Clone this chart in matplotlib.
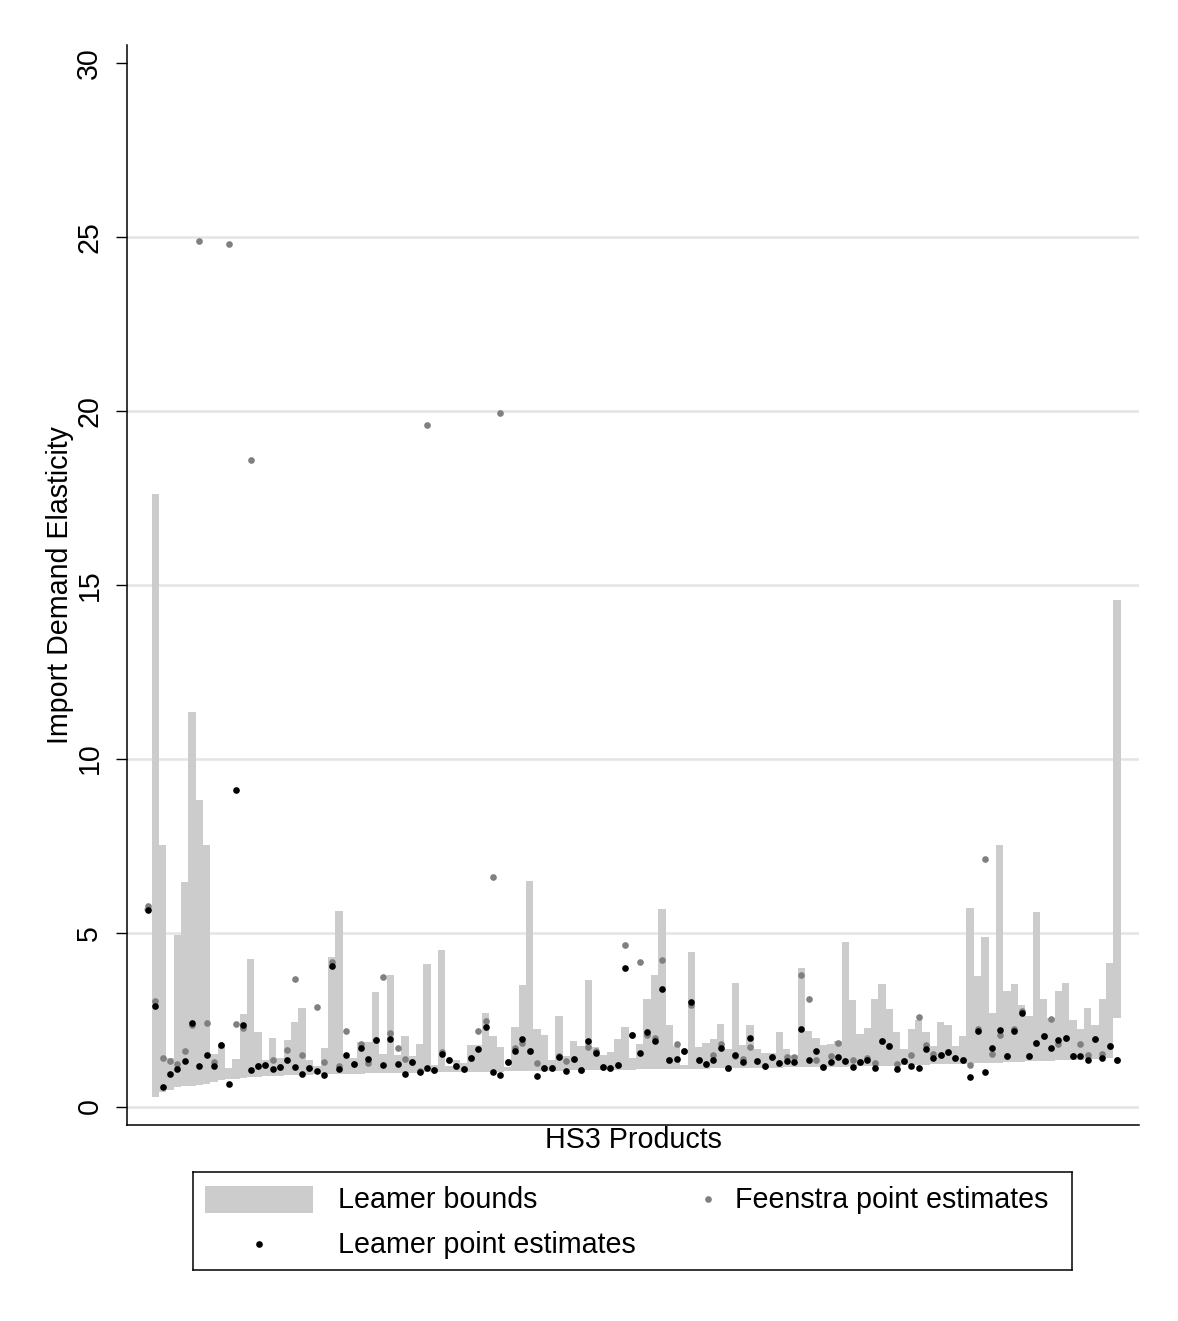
import matplotlib
matplotlib.use("Agg")
import matplotlib.pyplot as plt
from matplotlib.patches import Rectangle
import numpy as np

plt.rcParams['font.family'] = ['Liberation Sans', 'DejaVu Sans']

# Leamer bounds (lower, upper), Leamer point estimates, Feenstra point estimates per HS3 product
lower = [5.62, 0.27, 0.41, 0.47, 0.55, 0.58, 0.60, 0.63, 0.66, 0.72,
         0.76, 0.78, 0.80, 0.82, 0.84, 0.85, 0.87, 0.88, 0.89, 0.90,
         0.91, 0.92, 0.92, 0.93, 0.93, 0.94, 0.94, 0.95, 0.95, 0.95,
         0.96, 0.96, 0.96, 0.96, 0.97, 0.97, 0.97, 0.97, 0.98, 0.98,
         0.98, 0.98, 0.99, 0.99, 0.99, 1.00, 1.00, 1.00, 1.00, 1.01,
         1.01, 1.01, 1.02, 1.02, 1.02, 1.03, 1.03, 1.03, 1.04, 1.04,
         1.04, 1.05, 1.05, 1.05, 1.06, 1.06, 1.06, 1.07, 1.07, 1.07,
         1.08, 1.08, 1.08, 1.08, 1.09, 1.09, 1.09, 1.10, 1.10, 1.10,
         1.10, 1.11, 1.11, 1.11, 1.12, 1.12, 1.12, 1.13, 1.13, 1.13,
         1.14, 1.14, 1.14, 1.15, 1.15, 1.15, 1.16, 1.16, 1.16, 1.17,
         1.17, 1.18, 1.18, 1.19, 1.19, 1.20, 1.20, 1.21, 1.21, 1.22,
         1.22, 1.23, 1.23, 1.24, 1.24, 1.25, 1.26, 1.27, 1.28, 1.29,
         1.30, 1.30, 1.31, 1.32, 1.33, 1.33, 1.34, 1.35, 1.36, 1.37,
         1.38, 1.40, 2.54]
upper = [5.72, 17.60, 7.53, 1.40, 4.94, 6.46, 11.35, 8.82, 7.52, 1.50,
         1.78, 1.12, 1.38, 2.67, 4.25, 2.14, 1.35, 1.97, 1.40, 1.90,
         2.42, 2.82, 1.35, 1.18, 1.67, 4.31, 5.63, 1.43, 1.41, 1.86,
         1.86, 3.30, 1.52, 3.79, 1.49, 2.04, 1.46, 1.81, 4.11, 1.20,
         4.51, 1.18, 1.35, 1.25, 1.78, 1.78, 2.70, 2.04, 1.70, 1.13,
         2.30, 3.48, 6.49, 2.24, 2.06, 1.35, 2.61, 1.44, 1.88, 1.75,
         3.64, 1.71, 1.48, 1.56, 1.95, 2.30, 1.41, 1.81, 3.10, 3.79,
         5.69, 2.33, 1.75, 1.20, 4.45, 1.70, 1.84, 1.95, 2.36, 1.64,
         3.56, 1.78, 2.33, 1.64, 1.54, 1.54, 2.15, 1.64, 1.49, 3.97,
         2.18, 1.97, 1.78, 1.81, 1.88, 4.74, 3.07, 2.08, 2.25, 3.09,
         3.51, 2.79, 2.14, 1.64, 2.24, 2.50, 2.14, 1.75, 2.43, 2.33,
         1.75, 2.04, 5.70, 3.75, 4.88, 2.69, 7.53, 3.32, 3.51, 2.92,
         2.60, 5.60, 3.09, 2.55, 3.32, 3.55, 2.48, 2.22, 2.82, 2.35,
         3.10, 4.14, 14.57]
leamer = [5.65, 2.88, 0.57, 0.94, 1.07, 1.32, 2.39, 1.16, 1.47, 1.16,
          1.77, 0.65, 9.10, 2.35, 1.06, 1.16, 1.20, 1.09, 1.13, 1.33,
          1.14, 0.95, 1.10, 1.01, 0.92, 4.03, 1.08, 1.49, 1.22, 1.68,
          1.37, 1.90, 1.20, 1.95, 1.22, 0.95, 1.28, 1.00, 1.10, 1.05,
          1.50, 1.35, 1.16, 1.08, 1.40, 1.65, 2.28, 0.99, 0.92, 1.29,
          1.59, 1.93, 1.59, 0.88, 1.10, 1.10, 1.42, 1.03, 1.37, 1.06,
          1.88, 1.54, 1.15, 1.10, 1.19, 3.97, 2.05, 1.54, 2.15, 1.88,
          3.37, 1.35, 1.37, 1.59, 3.01, 1.34, 1.22, 1.34, 1.68, 1.11,
          1.49, 1.27, 1.98, 1.32, 1.16, 1.43, 1.24, 1.31, 1.29, 2.22,
          1.34, 1.59, 1.13, 1.27, 1.42, 1.31, 1.15, 1.29, 1.34, 1.10,
          1.87, 1.75, 1.09, 1.31, 1.18, 1.11, 1.66, 1.40, 1.49, 1.56,
          1.41, 1.35, 0.84, 2.16, 0.99, 1.68, 2.19, 1.46, 2.16, 2.69,
          1.45, 1.82, 2.04, 1.67, 1.90, 1.98, 1.44, 1.46, 1.33, 1.95,
          1.40, 1.75, 1.33]
feenstra = [5.76, 3.03, 1.40, 1.30, 1.21, 1.59, 2.33, 24.89, 2.40, 1.28,
            1.77, 24.80, 2.37, 2.26, 18.59, 1.16, 1.20, 1.35, 1.13, 1.62,
            3.68, 1.49, 1.10, 2.85, 1.29, 4.15, 1.17, 2.18, 1.22, 1.81,
            1.24, 1.90, 3.72, 2.11, 1.68, 1.37, 1.28, 1.03, 19.60, 1.05,
            1.58, 1.35, 1.16, 1.08, 1.40, 2.18, 2.47, 6.61, 19.94, 1.29,
            1.68, 1.83, 1.59, 1.25, 1.10, 1.10, 1.46, 1.32, 1.37, 1.06,
            1.72, 1.61, 1.15, 1.10, 1.19, 4.64, 2.05, 4.15, 2.05, 1.97,
            4.20, 1.35, 1.81, 1.59, 2.92, 1.34, 1.22, 1.49, 1.81, 1.11,
            1.44, 1.37, 1.71, 1.32, 1.16, 1.43, 1.24, 1.42, 1.42, 3.78,
            3.09, 1.34, 1.13, 1.44, 1.82, 1.31, 1.34, 1.29, 1.39, 1.24,
            1.87, 1.75, 1.23, 1.31, 1.49, 2.57, 1.77, 1.51, 1.49, 1.56,
            1.41, 1.35, 1.19, 2.22, 7.11, 1.51, 2.05, 1.46, 2.24, 2.75,
            1.45, 1.82, 2.04, 2.51, 1.80, 1.98, 1.44, 1.80, 1.49, 1.95,
            1.51, 1.75, 1.33]

yticks = [0, 5, 10, 15, 20, 25, 30]

W, H = 1178, 1321
FS = 20.6
MS = 4.8
fig = plt.figure(figsize=(W / 100, H / 100), dpi=100)
ax = fig.add_axes([127 / W, 1 - 1125 / H, (1139 - 127) / W, (1125 - 45) / H])

x = np.arange(1, len(lower) + 1)
lo = np.array(lower)
up = np.array(upper)

for g in yticks[:-1]:
    ax.axhline(g, color='#e4e4e4', lw=1.8, zorder=0)

ax.bar(x, up - lo, bottom=lo, width=1.0, color='#cccccc', edgecolor='none', zorder=1)
ax.plot(x, feenstra, 'o', color='#808080', ms=MS, mec='none', zorder=2)
ax.plot(x, leamer, 'o', color='black', ms=MS, mec='none', zorder=3)

ax.set_xlim(-1.86, 136.0)
ax.set_ylim(-0.53, 30.51)
ax.set_xticks([])
ax.set_yticks(yticks)
ax.set_yticklabels([str(t) for t in yticks], rotation=90, va='center')
ax.tick_params(axis='y', length=8, width=1.0, pad=9, labelsize=FS)
for s in ['top', 'right']:
    ax.spines[s].set_visible(False)
for s in ['left', 'bottom']:
    ax.spines[s].set_linewidth(1.1)
ax.set_ylabel('Import Demand Elasticity', fontsize=FS, labelpad=1)
ax.set_xlabel('HS3 Products', fontsize=FS, labelpad=1)

# legend box
lax = fig.add_axes([193 / W, 1 - 1270 / H, (1072 - 193) / W, (1270 - 1172) / H])
lax.set_xlim(0, 879)
lax.set_ylim(98, 0)
lax.set_xticks([])
lax.set_yticks([])
for s in lax.spines.values():
    s.set_linewidth(1.1)
lax.add_patch(Rectangle((12, 14), 108, 27, color='#cccccc', lw=0))
lax.text(145, 28, 'Leamer bounds', fontsize=FS, va='center', ha='left')
lax.plot([515], [27], 'o', color='#808080', ms=MS, mec='none')
lax.text(542, 28, 'Feenstra point estimates', fontsize=FS, va='center', ha='left')
lax.plot([66], [72], 'o', color='black', ms=MS, mec='none')
lax.text(145, 73, 'Leamer point estimates', fontsize=FS, va='center', ha='left')

fig.savefig('out.png', dpi=100, facecolor='white')
